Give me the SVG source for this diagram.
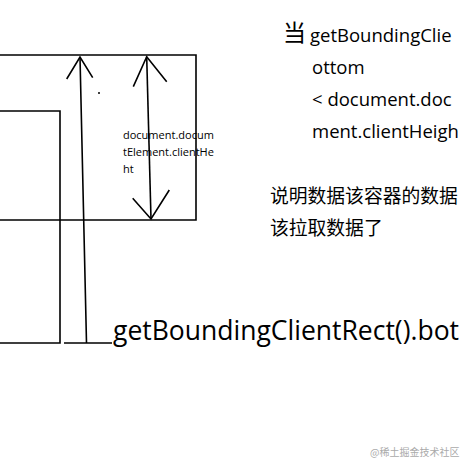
<svg xmlns="http://www.w3.org/2000/svg" width="460" height="460" viewBox="0 0 460 460">
<style>
.ln{fill:none;stroke:#000;stroke-width:1.6;stroke-linecap:butt;stroke-linejoin:miter}
.t{font-family:"Open Sans","Noto Sans","Noto Sans CJK SC",sans-serif;fill:#000}
.cn{font-family:"Noto Sans CJK SC","Noto Sans",sans-serif;fill:#000}
</style>
<rect width="460" height="460" fill="#fff"/>
<g id="viewport">
<polyline class="ln" points="-2,55 196,55 196,220 -2,220"/>
</g>
<g id="container">
<polyline class="ln" points="-2,111 60,111 60,343 -2,343"/>
</g>
<g id="dot"><circle cx="99" cy="93" r="1" fill="#000"/></g>
<g id="connectors">
<path class="ln" d="M80,57 L86.5,343 M64,343 L112,343"/>
<path class="ln" d="M66.7,79 L80,57 L92.7,77.7"/>
<path class="ln" d="M146.7,56.7 L151,219"/>
<path class="ln" d="M133.3,86.7 L146.7,56.7 L166.7,81.7"/>
<path class="ln" d="M132.7,198.3 L151,219 L169.3,190"/>
</g>
<g id="client-height-label">
<text class="t" font-size="11" x="123" y="139">document.docum</text>
<text class="t" font-size="11" x="123" y="156">tElement.clientHe</text>
<text class="t" font-size="11" x="123" y="173">ht</text>
</g>
<g id="bottom-label">
<text class="t" font-size="26.5" x="113" y="340">getBoundingClientRect().bot</text>
</g>
<g id="condition-label">
<text class="cn" font-size="23" x="283" y="41">当</text>
<text class="t" font-size="18.5" x="310" y="42">getBoundingClie</text>
<text class="t" font-size="18.5" x="312" y="74">ottom</text>
<text class="t" font-size="18.5" x="312" y="106">&lt; document.doc</text>
<text class="t" font-size="18.5" x="312" y="138">ment.clientHeigh</text>
<text class="cn" font-size="18.8" x="270" y="203">说明数据该容器的数据</text>
<text class="cn" font-size="18.8" x="270" y="235">该拉取数据了</text>
</g>
<g id="watermark">
<text class="cn" font-size="10" x="370" y="456" style="fill:#aaa">@稀土掘金技术社区</text>
</g>
</svg>
